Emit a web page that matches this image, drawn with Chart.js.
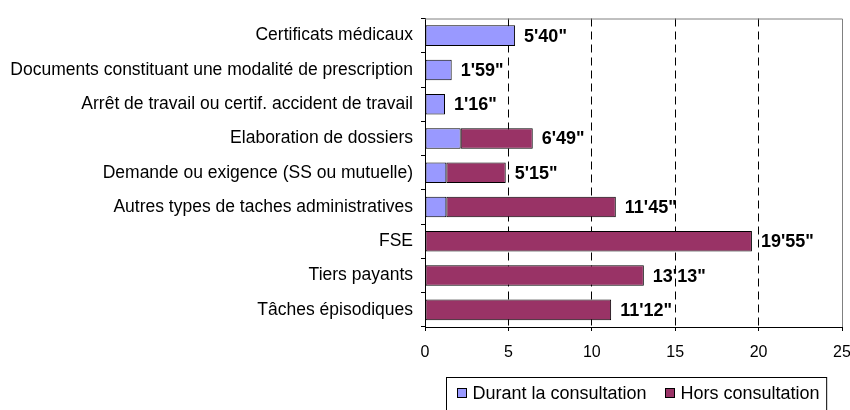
<!DOCTYPE html>
<html>
<head>
<meta charset="utf-8">
<script src="https://cdn.jsdelivr.net/npm/chart.js"></script>
<style>
body { margin: 0; background: #fff; }
#wrap { width: 850px; height: 410px; position: relative; }
</style>
</head>
<body>
<div id="wrap"><canvas id="chart"></canvas></div>
<script>
// Data
const categories = [
"Certificats médicaux",
"Documents constituant une modalité de prescription",
"Arrêt de travail ou certif. accident de travail",
"Elaboration de dossiers",
"Demande ou exigence (SS ou mutuelle)",
"Autres types de taches administratives",
"FSE",
"Tiers payants",
"Tâches épisodiques"
];
const durantValues = [5.4, 1.6, 1.2, 2.14, 1.28, 1.28, null, null, null];
const horsValues = [null, null, null, 4.32, 3.56, 10.16, 19.6, 13.12, 11.16];
const durationLabels = ["5'40\"", "1'59\"", "1'16\"", "6'49\"", "5'15\"", "11'45\"", "19'55\"", "13'13\"", "11'12\""];
const xTicks = [0, 5, 10, 15, 20, 25];
const seriesNames = ["Durant la consultation", "Hors consultation"];

const FONT = "'Liberation Sans', Arial, sans-serif";


// total labels at the end of each bar
const totalLabels = {
id: "totalLabels",
afterDatasetsDraw(chart) {
const ctx = chart.ctx;
const x = chart.scales.x;
const y = chart.scales.y;
ctx.save();
ctx.font = "bold 18px " + FONT;
ctx.fillStyle = "#000";
ctx.textAlign = "left";
ctx.textBaseline = "middle";
categories.forEach((c, i) => {
const total = (durantValues[i] || 0) + (horsValues[i] || 0);
ctx.fillText(durationLabels[i], x.getPixelForValue(total) + 9, y.getPixelForValue(i) + 1);
});
ctx.restore();
}
};


// gray frame on top and right, plus boxed legend under the plot
const frameAndLegend = {
id: "frameAndLegend",
afterDraw(chart) {
const ctx = chart.ctx;
const a = chart.chartArea;
ctx.save();

ctx.strokeStyle = "#808080";
ctx.lineWidth = 1;
ctx.beginPath();
ctx.moveTo(a.left, a.top + 0.5);
ctx.lineTo(a.right + 0.5, a.top + 0.5);
ctx.lineTo(a.right + 0.5, a.bottom);
ctx.stroke();

// legend
ctx.font = "18px " + FONT;
ctx.textBaseline = "middle";
const colors = chart.data.datasets.map(d => d.backgroundColor);
const widths = seriesNames.map(n => ctx.measureText(n).width);
const box = 9, gap = 6, between = 18, padL = 10, padR = 9;
const total = padL + widths.reduce((s, w) => s + box + gap + w, 0) + between + padR;
const left = Math.round(636 - total / 2) + 0.5;
const top = 377.5;
ctx.strokeStyle = "#000";
ctx.strokeRect(left, top, total, 40);

let cx = Math.round(left + padL) + 0.5;
const cy = 393;
seriesNames.forEach((n, i) => {
ctx.fillStyle = colors[i];
ctx.fillRect(cx, cy - 4.5, box, box);
ctx.strokeStyle = "#000";
ctx.strokeRect(cx, cy - 4.5, box, box);
ctx.fillStyle = "#000";
ctx.fillText(n, cx + box + gap, cy + 1);
cx = Math.round(cx + box + gap + widths[i] + between) + 0.5;
});

ctx.restore();
}
};


new Chart(document.getElementById("chart"), {
type: "bar",
data: {
labels: categories,
datasets: [
{
label: seriesNames[0],
data: durantValues,
backgroundColor: "#9999FF",
borderColor: "#000",
borderWidth: 1,
borderSkipped: false,
barPercentage: 0.6,
categoryPercentage: 1
},
{
label: seriesNames[1],
data: horsValues,
backgroundColor: "#993366",
borderColor: "#000",
borderWidth: 1,
borderSkipped: false,
barPercentage: 0.6,
categoryPercentage: 1
}
]
},
options: {
indexAxis: "y",
responsive: true,
maintainAspectRatio: false,
animation: false,
layout: { padding: { top: 10, right: 8, left: 0, bottom: 0 } },
plugins: {
legend: { display: false },
tooltip: { enabled: false }
},
scales: {
x: {
stacked: true,
min: 0,
max: 25,
afterBuildTicks: (scale) => { scale.ticks = xTicks.map(v => ({ value: v })); },
afterFit: (scale) => {
scale.height = 83;
scale.paddingLeft = 0;
scale.paddingRight = 0;
},
grid: {
color: (c) => (c.tick && (c.tick.value === 0 || c.tick.value === 25)) ? "rgba(0,0,0,0)" : "#000",
tickColor: "#000",
tickLength: 4,
lineWidth: 1
},
border: { display: true, color: "#000", dash: [8, 5] },
ticks: {
color: "#000",
font: { family: FONT, size: 16 },
padding: 12,
maxRotation: 0
}
},
y: {
stacked: true,
afterFit: (scale) => { scale.width = 425; },
grid: {
drawOnChartArea: false,
tickColor: "#000",
tickLength: 4,
offset: true
},
border: { display: true, color: "#000" },
ticks: {
color: "#000",
font: { family: FONT, size: 17.5 },
padding: 8,
autoSkip: false
}
}
}
},
plugins: [totalLabels, frameAndLegend]
});
</script>
</body>
</html>
